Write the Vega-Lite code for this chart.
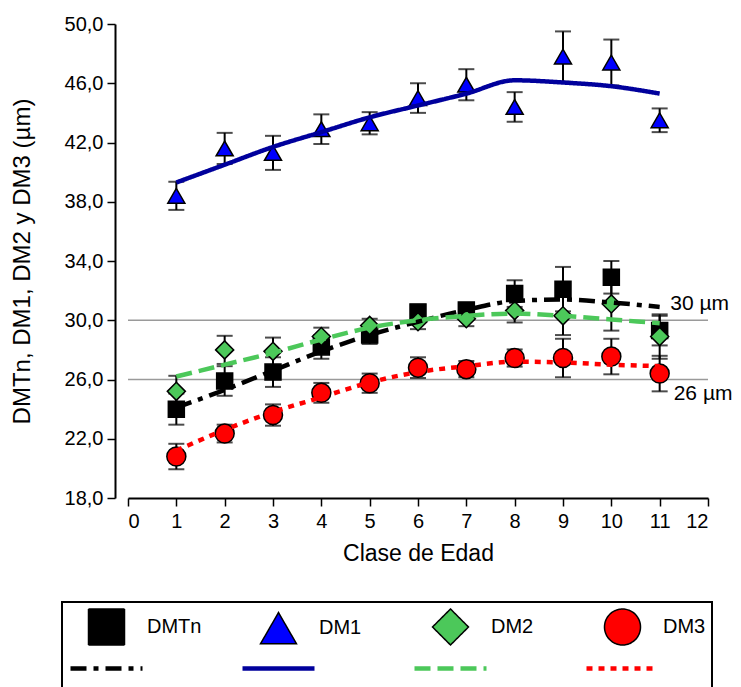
{
  "$schema": "https://vega.github.io/schema/vega-lite/v6.json",
  "width": 580,
  "height": 474,
  "autosize": {"type": "none"},
  "padding": {"left": 128, "top": 24, "right": 33, "bottom": 189},
  "background": "white",
  "config": {
    "view": {"stroke": null},
    "font": "Liberation Sans",
    "axis": {
      "grid": false,
      "domainColor": "black",
      "domainWidth": 2,
      "tickColor": "black",
      "tickWidth": 1.5,
      "tickSize": 8,
      "labelFontSize": 20,
      "labelColor": "black",
      "labelFont": "Liberation Sans",
      "titleFont": "Liberation Sans",
      "titleFontWeight": "normal",
      "titleColor": "black"
    }
  },
  "datasets": {
    "obs": [
      {"age": 1, "serie": "DMTn", "v": 24.0, "err": 1.05},
      {"age": 2, "serie": "DMTn", "v": 25.9, "err": 1.0},
      {"age": 3, "serie": "DMTn", "v": 26.5, "err": 1.0},
      {"age": 4, "serie": "DMTn", "v": 28.2, "err": 0.8},
      {"age": 5, "serie": "DMTn", "v": 29.0, "err": 0.6},
      {"age": 6, "serie": "DMTn", "v": 30.55, "err": 0.5},
      {"age": 7, "serie": "DMTn", "v": 30.7, "err": 0.35},
      {"age": 8, "serie": "DMTn", "v": 31.8, "err": 0.9},
      {"age": 9, "serie": "DMTn", "v": 32.1, "err": 1.5},
      {"age": 10, "serie": "DMTn", "v": 32.9, "err": 1.1},
      {"age": 11, "serie": "DMTn", "v": 29.3, "err": 1.0},
      {"age": 1, "serie": "DM1", "v": 38.4, "err": 0.95},
      {"age": 2, "serie": "DM1", "v": 41.6, "err": 1.05},
      {"age": 3, "serie": "DM1", "v": 41.3, "err": 1.15},
      {"age": 4, "serie": "DM1", "v": 42.9, "err": 1.0},
      {"age": 5, "serie": "DM1", "v": 43.3, "err": 0.75},
      {"age": 6, "serie": "DM1", "v": 45.0, "err": 1.0},
      {"age": 7, "serie": "DM1", "v": 45.9, "err": 1.05},
      {"age": 8, "serie": "DM1", "v": 44.4, "err": 1.0},
      {"age": 9, "serie": "DM1", "v": 47.8, "err": 1.7},
      {"age": 10, "serie": "DM1", "v": 47.4, "err": 1.55},
      {"age": 11, "serie": "DM1", "v": 43.5, "err": 0.8},
      {"age": 1, "serie": "DM2", "v": 25.2, "err": 1.05},
      {"age": 2, "serie": "DM2", "v": 28.0, "err": 0.95},
      {"age": 3, "serie": "DM2", "v": 27.9, "err": 0.93},
      {"age": 4, "serie": "DM2", "v": 28.9, "err": 0.6},
      {"age": 5, "serie": "DM2", "v": 29.65, "err": 0.45},
      {"age": 6, "serie": "DM2", "v": 29.9, "err": 0.5},
      {"age": 7, "serie": "DM2", "v": 30.1, "err": 0.5},
      {"age": 8, "serie": "DM2", "v": 30.65, "err": 0.8},
      {"age": 9, "serie": "DM2", "v": 30.3, "err": 1.3},
      {"age": 10, "serie": "DM2", "v": 31.1, "err": 1.8},
      {"age": 11, "serie": "DM2", "v": 28.9, "err": 1.5},
      {"age": 1, "serie": "DM3", "v": 20.8, "err": 0.86},
      {"age": 2, "serie": "DM3", "v": 22.35, "err": 0.6},
      {"age": 3, "serie": "DM3", "v": 23.6, "err": 0.72},
      {"age": 4, "serie": "DM3", "v": 25.1, "err": 0.67},
      {"age": 5, "serie": "DM3", "v": 25.75, "err": 0.65},
      {"age": 6, "serie": "DM3", "v": 26.8, "err": 0.7},
      {"age": 7, "serie": "DM3", "v": 26.7, "err": 0.55},
      {"age": 8, "serie": "DM3", "v": 27.45, "err": 0.58},
      {"age": 9, "serie": "DM3", "v": 27.45, "err": 1.3},
      {"age": 10, "serie": "DM3", "v": 27.55, "err": 1.2},
      {"age": 11, "serie": "DM3", "v": 26.4, "err": 1.2}
    ],
    "fit": [
      {"age": 1, "serie": "lDMTn", "v": 24.1},
      {"age": 2, "serie": "lDMTn", "v": 25.3},
      {"age": 3, "serie": "lDMTn", "v": 26.6},
      {"age": 4, "serie": "lDMTn", "v": 27.9},
      {"age": 5, "serie": "lDMTn", "v": 29.0},
      {"age": 6, "serie": "lDMTn", "v": 29.9},
      {"age": 7, "serie": "lDMTn", "v": 30.7},
      {"age": 8, "serie": "lDMTn", "v": 31.3},
      {"age": 9, "serie": "lDMTn", "v": 31.4},
      {"age": 10, "serie": "lDMTn", "v": 31.2},
      {"age": 11, "serie": "lDMTn", "v": 30.9},
      {"age": 1, "serie": "lDM1", "v": 39.3},
      {"age": 2, "serie": "lDM1", "v": 40.5},
      {"age": 3, "serie": "lDM1", "v": 41.7},
      {"age": 4, "serie": "lDM1", "v": 42.7},
      {"age": 5, "serie": "lDM1", "v": 43.7},
      {"age": 6, "serie": "lDM1", "v": 44.5},
      {"age": 7, "serie": "lDM1", "v": 45.3},
      {"age": 8, "serie": "lDM1", "v": 46.2},
      {"age": 9, "serie": "lDM1", "v": 46.05},
      {"age": 10, "serie": "lDM1", "v": 45.8},
      {"age": 11, "serie": "lDM1", "v": 45.3},
      {"age": 1, "serie": "lDM2", "v": 26.2},
      {"age": 2, "serie": "lDM2", "v": 27.0},
      {"age": 3, "serie": "lDM2", "v": 27.8},
      {"age": 4, "serie": "lDM2", "v": 28.7},
      {"age": 5, "serie": "lDM2", "v": 29.5},
      {"age": 6, "serie": "lDM2", "v": 30.0},
      {"age": 7, "serie": "lDM2", "v": 30.3},
      {"age": 8, "serie": "lDM2", "v": 30.45},
      {"age": 9, "serie": "lDM2", "v": 30.3},
      {"age": 10, "serie": "lDM2", "v": 30.05},
      {"age": 11, "serie": "lDM2", "v": 29.8},
      {"age": 1, "serie": "lDM3", "v": 21.2},
      {"age": 2, "serie": "lDM3", "v": 22.6},
      {"age": 3, "serie": "lDM3", "v": 23.8},
      {"age": 4, "serie": "lDM3", "v": 24.8},
      {"age": 5, "serie": "lDM3", "v": 25.8},
      {"age": 6, "serie": "lDM3", "v": 26.5},
      {"age": 7, "serie": "lDM3", "v": 26.9},
      {"age": 8, "serie": "lDM3", "v": 27.2},
      {"age": 9, "serie": "lDM3", "v": 27.15},
      {"age": 10, "serie": "lDM3", "v": 27.0},
      {"age": 11, "serie": "lDM3", "v": 26.9}
    ]
  },
  "layer": [
    {
      "data": {"values": [{"v": 30}, {"v": 26}]},
      "mark": {"type": "rule", "color": "#9a9a9a", "strokeWidth": 1.5},
      "encoding": {
        "y": {"field": "v", "type": "quantitative", "title": "DMTn, DM1, DM2 y DM3 (µm)"}
      }
    },
    {
      "data": {"name": "obs"},
      "mark": {"type": "errorbar", "color": "black", "thickness": 2, "ticks": {"size": 16, "thickness": 2, "color": "black"}},
      "encoding": {
        "x": {"field": "age", "type": "quantitative", "title": "Clase de Edad"},
        "y": {"field": "v", "type": "quantitative", "title": "DMTn, DM1, DM2 y DM3 (µm)"},
        "yError": {"field": "err"}
      }
    },
    {
      "data": {"name": "obs"},
      "mark": {"type": "point", "filled": true, "stroke": "black", "strokeWidth": 1.5, "opacity": 1},
      "encoding": {
        "x": {
          "field": "age", "type": "quantitative", "title": "Clase de Edad",
          "scale": {"domain": [0, 12], "nice": false, "zero": false},
          "axis": {"values": [0, 1, 2, 3, 4, 5, 6, 7, 8, 9, 10, 11, 12], "labelPadding": 5, "titlePadding": 11, "titleFontSize": 23}
        },
        "y": {
          "field": "v", "type": "quantitative", "title": "DMTn, DM1, DM2 y DM3 (µm)",
          "scale": {"domain": [18, 50], "nice": false, "zero": false},
          "axis": {"values": [18, 22, 26, 30, 34, 38, 42, 46, 50], "labelExpr": "replace(format(datum.value, '.1f'), '.', ',')", "labelPadding": 4, "titlePadding": 30, "titleFontSize": 24, "offset": 13}
        },
        "shape": {
          "field": "serie", "type": "nominal",
          "scale": {
            "domain": ["DMTn", "DM1", "DM2", "DM3", "lDMTn", "lDM1", "lDM2", "lDM3"],
            "range": ["square", "triangle-up", "diamond", "circle", "M-2,0H2", "M-2,0H2", "M-2,0H2", "M-2,0H2"]
          },
          "legend": {
            "title": " ",
            "titleOrient": "left",
            "titleFontSize": 84,
            "titleAnchor": "start",
            "titleBaseline": "top",
            "titlePadding": 18,
            "orient": "none",
            "legendX": -66,
            "legendY": 578,
            "direction": "horizontal",
            "columns": 4,
            "gridAlign": "all",
            "symbolSize": 1296,
            "labelFont": "Liberation Sans",
            "labelFontSize": 20,
            "labelColor": "black",
            "labelOffset": 20,
            "columnPadding": 31,
            "rowPadding": -6,
            "padding": 6,
            "strokeColor": "black",
            "labelExpr": "indexof(datum.label, 'l') === 0 ? '' : datum.label",
            "encoding": {
              "legend": {"strokeWidth": {"value": 2}},
              "symbols": {
                "strokeCap": {"value": "butt"},
                "opacity": {"value": 1}
              }
            }
          }
        },
        "fill": {
          "field": "serie", "type": "nominal",
          "scale": {
            "domain": ["DMTn", "DM1", "DM2", "DM3", "lDMTn", "lDM1", "lDM2", "lDM3"],
            "range": ["#000000", "#0000FF", "#4CC85A", "#FF0000", "transparent", "transparent", "transparent", "transparent"]
          },
          "legend": {"title": " "}
        },
        "size": {
          "field": "serie", "type": "ordinal",
          "scale": {"domain": ["DMTn", "DM1", "DM2", "DM3"], "range": [256, 361, 400, 324]},
          "legend": null
        }
      }
    },
    {
      "data": {"name": "fit"},
      "mark": {"type": "line", "strokeCap": "butt", "interpolate": "monotone"},
      "encoding": {
        "x": {"field": "age", "type": "quantitative", "title": "Clase de Edad"},
        "y": {"field": "v", "type": "quantitative", "title": "DMTn, DM1, DM2 y DM3 (µm)"},
        "stroke": {
          "field": "serie", "type": "nominal",
          "scale": {
            "domain": ["DMTn", "DM1", "DM2", "DM3", "lDMTn", "lDM1", "lDM2", "lDM3"],
            "range": ["#000000", "#000000", "#000000", "#000000", "#000000", "#00009C", "#4CC85A", "#FF0000"]
          },
          "legend": {"title": " "}
        },
        "strokeDash": {
          "field": "serie", "type": "nominal",
          "scale": {
            "domain": ["DMTn", "DM1", "DM2", "DM3", "lDMTn", "lDM1", "lDM2", "lDM3"],
            "range": [[1, 0], [1, 0], [1, 0], [1, 0], [16, 7, 5, 7], [1, 0], [16, 7], [6, 6]]
          },
          "legend": {"title": " "}
        },
        "strokeWidth": {
          "field": "serie", "type": "nominal",
          "scale": {
            "type": "ordinal",
            "domain": ["DMTn", "DM1", "DM2", "DM3", "lDMTn", "lDM1", "lDM2", "lDM3"],
            "range": [1.5, 1.5, 1.5, 1.5, 4.5, 4.5, 4.5, 4.5]
          },
          "legend": {"title": " "}
        }
      }
    },
    {
      "data": {"values": [{"v": 30, "label": "30 µm"}]},
      "mark": {"type": "text", "align": "left", "baseline": "middle", "dy": -16, "fontSize": 21, "font": "Liberation Sans", "color": "black"},
      "encoding": {
        "x": {"datum": 11.22, "type": "quantitative", "title": "Clase de Edad"},
        "y": {"field": "v", "type": "quantitative", "title": "DMTn, DM1, DM2 y DM3 (µm)"},
        "text": {"field": "label"}
      }
    },
    {
      "data": {"values": [{"v": 26, "label": "26 µm"}]},
      "mark": {"type": "text", "align": "left", "baseline": "middle", "dy": 14, "fontSize": 21, "font": "Liberation Sans", "color": "black"},
      "encoding": {
        "x": {"datum": 11.29, "type": "quantitative", "title": "Clase de Edad"},
        "y": {"field": "v", "type": "quantitative", "title": "DMTn, DM1, DM2 y DM3 (µm)"},
        "text": {"field": "label"}
      }
    }
  ]
}
